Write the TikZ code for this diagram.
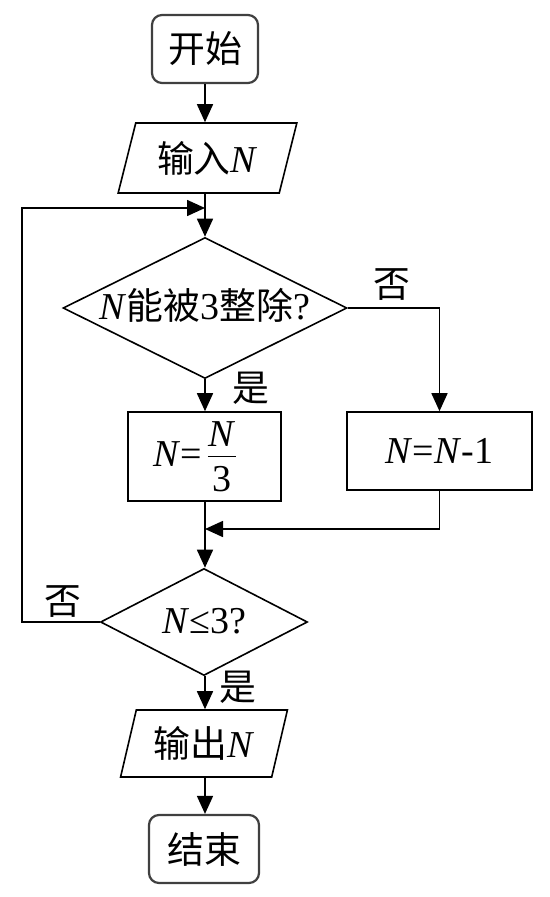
\documentclass[tikz,border=0pt]{standalone}
\usepackage{fontspec}
\setmainfont{Liberation Serif}
\newfontfamily\cjk[Scale=0.97]{Noto Sans CJK SC}
\usetikzlibrary{shapes.geometric,arrows.meta}
\newcommand{\myfrac}[2]{\raisebox{-25pt}{\vbox{\offinterlineskip
  \hbox to 28pt{\hss#1\hss}\kern9pt\hrule height1.5pt\kern8pt
  \hbox to 28pt{\hss\vrule height26pt depth0pt width0pt#2\hss}}}}
\begin{document}
\begin{tikzpicture}[x=1pt,y=-1pt, line width=1.6pt,
  font=\fontsize{38}{42}\selectfont,
  box/.style={draw, rectangle, inner sep=0pt},
  term/.style={draw=black!75, line width=2.2pt, rectangle, rounded corners=10pt, inner sep=0pt},
  io/.style={draw, trapezium, trapezium stretches=true, inner sep=0pt},
  dec/.style={draw, diamond, inner sep=0pt, text height=26pt, text depth=4pt},
  arr/.style={-{Triangle[length=18pt,width=16pt]}},
  lbl/.style={inner sep=0pt}]
\useasboundingbox (0,0) rectangle (549,897);

\node[term, minimum width=106pt, minimum height=68pt] (start) at (205,49) {{\cjk 开始}};
\node[io, trapezium left angle=70, trapezium right angle=110, minimum width=179pt, minimum height=70pt] (inp) at (207.5,158) {{\cjk 输入}\textit{N}};
\node[dec, shape aspect=2, minimum width=284pt, minimum height=141pt] (d1) at (205,308) {\textit{N}{\cjk 能被}3{\cjk 整除}?};
\node[box, minimum width=153pt, minimum height=89pt] (b1) at (204.5,456.5) {\textit{N}=\kern6pt\myfrac{\textit{N}}{3}\kern20pt};
\node[box, minimum width=185pt, minimum height=78pt] (b2) at (439.5,451) {\textit{N}=\textit{N}-1};
\node[dec, shape aspect=2, minimum width=207pt, minimum height=107pt] (d2) at (204,622) {\textit{N}≤3?};
\node[io, trapezium left angle=71, trapezium right angle=109, minimum width=167pt, minimum height=67pt] (out) at (204,743.5) {{\cjk 输出}\textit{N}};
\node[term, minimum width=110pt, minimum height=68pt] (end) at (204,849) {{\cjk 结束}};

\node[lbl] (no1) at (392,285) {\cjk 否};
\node[lbl] (yes1) at (251,388) {\cjk 是};
\node[lbl] (no2) at (63,602) {\cjk 否};
\node[lbl] (yes2) at (238,687) {\cjk 是};

\coordinate (merge) at (205,529);
\coordinate (loopcorner) at (22,208);
\coordinate (loopjoin) at (205,208);

\draw[arr] (start.south -| 205,0) -- (inp.north -| 205,0);
\draw[arr] (inp.south -| 205,0) -- (d1.north -| 205,0);
\draw[arr] (d1.south -| 205,0) -- (b1.north -| 205,0);
\draw[arr] (d1.east) -| (b2.north);
\draw[arr] (b2.south) |- (merge);
\draw[arr] (b1.south -| 205,0) -- (d2.north -| 205,0);
\draw[arr] (d2.south -| 205,0) -- (out.north -| 205,0);
\draw[arr] (out.south -| 205,0) -- (end.north -| 205,0);
\draw[arr] (d2.west) -| (loopcorner) -- (loopjoin);
\end{tikzpicture}
\end{document}
